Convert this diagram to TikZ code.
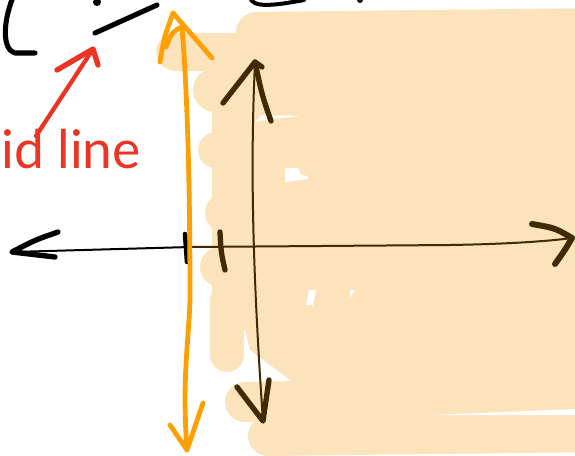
\documentclass[tikz,border=0pt]{standalone}
\usepackage{fontspec}
\newfontfamily\handfont{Lato}
\definecolor{peach}{RGB}{252,227,188}
\definecolor{sorange}{RGB}{255,159,0}
\definecolor{sbrown}{RGB}{66,42,0}
\definecolor{sred}{RGB}{236,52,36}
\begin{document}
\begin{tikzpicture}[x=0.75pt,y=-0.75pt,line cap=round,line join=round,
  hl/.style={draw=peach},
  gap/.style={fill=white},
  thinax/.style={line width=1.5pt},
  headstroke/.style={line width=4pt},
  orangepen/.style={draw=sorange,line width=3.6pt},
  redpen/.style={draw=sred,line width=3.2pt},
  inkpen/.style={draw=black,line width=3.8pt}]
\useasboundingbox (0,0) rectangle (575,455);
\clip (0,0) rectangle (575,455);
% highlighter area
\draw[hl,line width=30pt] (256,32) -- (600,28);
\draw[hl,line width=28pt] (175,52) -- (600,52);
\draw[hl,line width=33pt] (215,90) -- (600,90);
\fill[peach] (212,92) -- (600,92) -- (600,402) -- (300,402) -- (290,380) -- (250,350) -- (245,330) -- (212,330) -- cycle;
\draw[hl,line width=27pt] (216,150) -- (300,150);
\draw[hl,line width=30pt] (225,213) -- (300,213);
\draw[hl,line width=30pt] (220,267) -- (300,267);
\draw[hl,line width=25.5pt] (227,300) -- (227,355);
\draw[hl,line width=30pt] (245,402) -- (600,395);
\draw[hl,line width=30pt] (268,436) -- (600,432);
% gaps in the highlighter
\fill[gap] (433,415) -- (575,409) -- (575,415) -- cycle;
\fill[gap] (285,168) -- (298,168) -- (301,175) -- (308,176) -- (308,179) -- (285,182) -- cycle;
\fill[gap] (255,122) -- (262,115) -- (300,116) -- (265,120) -- cycle;
\fill[gap] (309,290) -- (316,290) -- (313,305) -- (306,305) -- cycle;
\fill[gap] (350,290) -- (355,290) -- (350,298) -- cycle;
% black axis (left)
\coordinate (xl) at (12,252);
\coordinate (xm) at (190,247);
\coordinate (xr) at (572,238);
\draw[black,thinax] (xl) -- (xm);
\draw[black,headstroke] (58,232) .. controls (35,240) .. (xl) -- (55,257);
\draw[black,line width=3.4pt] (185,234) -- (187,262);
% brown axes
\draw[sbrown,thinax] (xm) -- (450,245) .. controls (510,244) and (550,241) .. (xr);
\draw[sbrown,line width=4.5pt] (532,224) .. controls (555,228) .. (xr) .. controls (565,250) .. (555,264);
\coordinate (yt) at (255,62);
\coordinate (yb) at (263,421);
\draw[sbrown,thinax] (yt) .. controls (251,150) and (251,250) .. (yb);
\draw[sbrown,headstroke] (223,103) -- (yt) -- (262,67);
\draw[sbrown,headstroke] (yt) .. controls (262,95) .. (271,121);
\draw[sbrown,headstroke] (237,387) -- (yb) -- (269,380);
\draw[sbrown,headstroke] (220,232) .. controls (221,252) .. (225,270);
% orange double arrow
\coordinate (ot) at (173,13);
\coordinate (ob) at (187,450);
\draw[orangepen] (182,27) .. controls (188,100) and (190,200) .. (190,300) .. controls (188,350) and (182,380) .. (ob);
\draw[orangepen] (160,62) .. controls (164,38) .. (ot) -- (212,58);
\draw[orangepen] (166,47) .. controls (172,32) .. (182,27);
\draw[orangepen] (170,425) -- (ob) -- (203,403);
% red label and arrow
\node[sred,anchor=base west,inner sep=0pt,font=\handfont\fontsize{40}{40}\selectfont] (lbl) at (1,168) {id line};
\coordinate (rt) at (93,49);
\draw[redpen] (36,136) -- (rt);
\draw[sred,line width=4pt] (57,70) -- (rt) -- (98,65);
% black marks at the top
\draw[inkpen] (13,-3) .. controls (2,25) and (3,50) .. (15,53) -- (35,53);
\fill[black] (97,2) circle (4);
\draw[inkpen] (95,33) -- (157,5);
\draw[black,line width=3pt] (250,-3) .. controls (252,8) and (272,6) .. (304,0);
\fill[black] (360,0) circle (3);
\end{tikzpicture}
\end{document}
